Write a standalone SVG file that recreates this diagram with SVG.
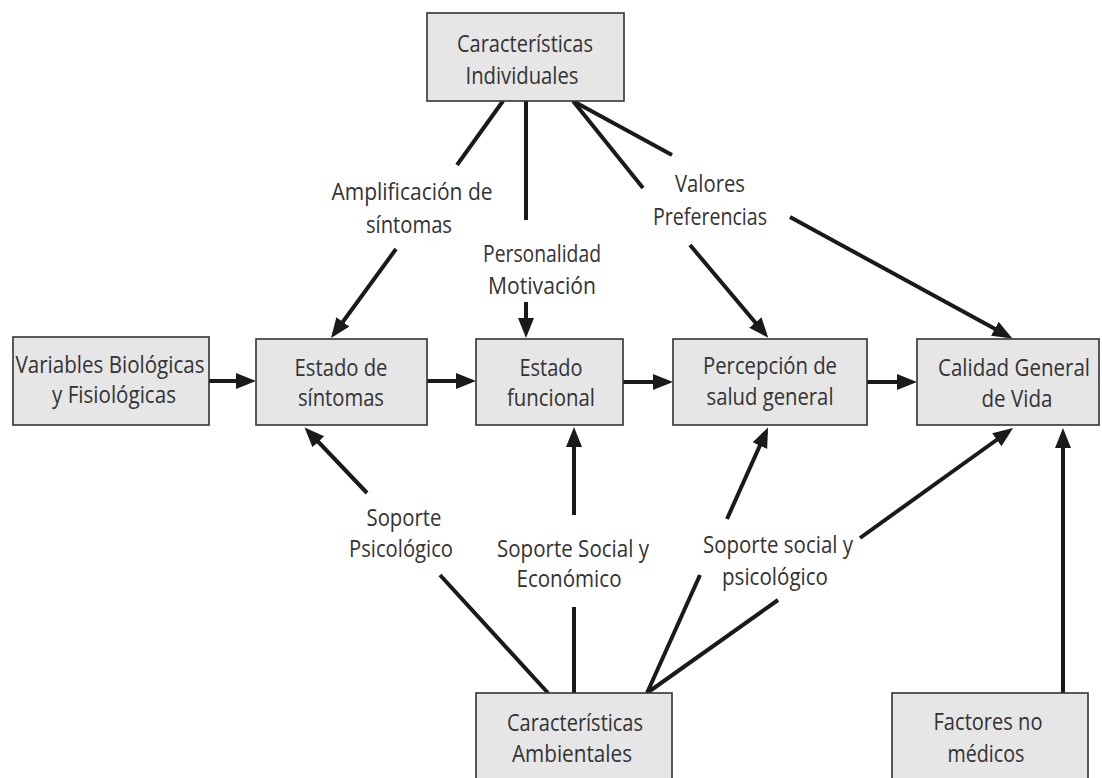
<svg xmlns="http://www.w3.org/2000/svg" width="1102" height="778" viewBox="0 0 1102 778">
<style>
.box{fill:#e6e6e6;stroke:#333;stroke-width:1.6}
text{font-family:"Open Sans","Noto Sans","Liberation Sans",sans-serif;font-size:24px;fill:#333;text-anchor:middle}
.ln{stroke:#1a1a1a;stroke-width:4;fill:none}
.ar{stroke:#1a1a1a;stroke-width:4;fill:none;marker-end:url(#ah)}
</style>
<defs>
<marker id="ah" markerUnits="userSpaceOnUse" markerWidth="22" markerHeight="18" refX="15" refY="8" orient="auto">
<path d="M0,0 L20,8 L0,16 Z" fill="#1a1a1a"/>
</marker>
</defs>
<rect width="1102" height="778" fill="#fff"/>
<g id="connectors">
<line class="ar" x1="209" y1="381" x2="251" y2="381"/>
<line class="ar" x1="427" y1="381" x2="471" y2="381"/>
<line class="ar" x1="623" y1="382" x2="668" y2="382"/>
<line class="ar" x1="867" y1="382" x2="912" y2="382"/>
<line class="ln" x1="503" y1="101" x2="457" y2="165"/>
<line class="ar" x1="396" y1="249" x2="334" y2="334"/>
<line class="ln" x1="526" y1="101" x2="526" y2="220"/>
<line class="ar" x1="526" y1="302" x2="526" y2="333"/>
<line class="ln" x1="573" y1="101" x2="643" y2="188"/>
<line class="ar" x1="690" y1="245" x2="765" y2="334"/>
<line class="ln" x1="573" y1="101" x2="672" y2="155"/>
<line class="ar" x1="790" y1="217" x2="1008" y2="336"/>
<line class="ln" x1="548" y1="693" x2="440" y2="575"/>
<line class="ar" x1="367" y1="493" x2="308" y2="431"/>
<line class="ln" x1="574" y1="693" x2="574" y2="607"/>
<line class="ar" x1="574" y1="515" x2="574" y2="432"/>
<line class="ln" x1="647" y1="693" x2="700" y2="575"/>
<line class="ar" x1="727" y1="519" x2="766" y2="432"/>
<line class="ln" x1="647" y1="693" x2="778" y2="600"/>
<line class="ar" x1="860" y1="538" x2="1009" y2="431"/>
<line class="ar" x1="1063" y1="693" x2="1063" y2="433"/>
</g>
<g id="labels">
<text x="412" y="200" textLength="161" lengthAdjust="spacingAndGlyphs">Amplificación de</text>
<text x="409" y="233" textLength="86" lengthAdjust="spacingAndGlyphs">síntomas</text>
<text x="542" y="262" textLength="118" lengthAdjust="spacingAndGlyphs">Personalidad</text>
<text x="542" y="294" textLength="108" lengthAdjust="spacingAndGlyphs">Motivación</text>
<text x="710" y="192" textLength="70" lengthAdjust="spacingAndGlyphs">Valores</text>
<text x="710" y="225" textLength="114" lengthAdjust="spacingAndGlyphs">Preferencias</text>
<text x="404" y="526" textLength="75" lengthAdjust="spacingAndGlyphs">Soporte</text>
<text x="401" y="557" textLength="104" lengthAdjust="spacingAndGlyphs">Psicológico</text>
<text x="573" y="557" textLength="152" lengthAdjust="spacingAndGlyphs">Soporte Social y</text>
<text x="569" y="587" textLength="105" lengthAdjust="spacingAndGlyphs">Económico</text>
<text x="778" y="553" textLength="150" lengthAdjust="spacingAndGlyphs">Soporte social y</text>
<text x="775" y="585" textLength="106" lengthAdjust="spacingAndGlyphs">psicológico</text>
</g>
<g id="n-individuales">
<rect class="box" x="427" y="13" width="197" height="88"/>
<text x="525" y="52" textLength="136" lengthAdjust="spacingAndGlyphs">Características</text>
<text x="522" y="84" textLength="113" lengthAdjust="spacingAndGlyphs">Individuales</text>
</g>
<g id="n-variables">
<rect class="box" x="13" y="337" width="196" height="88"/>
<text x="110" y="373" textLength="189" lengthAdjust="spacingAndGlyphs">Variables Biológicas</text>
<text x="114" y="403" textLength="124" lengthAdjust="spacingAndGlyphs">y Fisiológicas</text>
</g>
<g id="n-sintomas">
<rect class="box" x="256" y="339" width="171" height="86"/>
<text x="341" y="376" textLength="93" lengthAdjust="spacingAndGlyphs">Estado de</text>
<text x="341" y="406" textLength="86" lengthAdjust="spacingAndGlyphs">síntomas</text>
</g>
<g id="n-funcional">
<rect class="box" x="476" y="339" width="147" height="86"/>
<text x="551" y="376" textLength="63" lengthAdjust="spacingAndGlyphs">Estado</text>
<text x="551" y="406" textLength="88" lengthAdjust="spacingAndGlyphs">funcional</text>
</g>
<g id="n-percepcion">
<rect class="box" x="673" y="339" width="194" height="86"/>
<text x="770" y="374" textLength="134" lengthAdjust="spacingAndGlyphs">Percepción de</text>
<text x="770" y="405" textLength="127" lengthAdjust="spacingAndGlyphs">salud general</text>
</g>
<g id="n-calidad">
<rect class="box" x="917" y="339" width="182" height="86"/>
<text x="1014" y="376" textLength="152" lengthAdjust="spacingAndGlyphs">Calidad General</text>
<text x="1017" y="407" textLength="71" lengthAdjust="spacingAndGlyphs">de Vida</text>
</g>
<g id="n-ambientales">
<rect class="box" x="476" y="693" width="196" height="90"/>
<text x="575" y="731" textLength="136" lengthAdjust="spacingAndGlyphs">Características</text>
<text x="572" y="762" textLength="120" lengthAdjust="spacingAndGlyphs">Ambientales</text>
</g>
<g id="n-factores">
<rect class="box" x="892" y="693" width="196" height="90"/>
<text x="988" y="730" textLength="109" lengthAdjust="spacingAndGlyphs">Factores no</text>
<text x="986" y="762" textLength="77" lengthAdjust="spacingAndGlyphs">médicos</text>
</g>
</svg>
